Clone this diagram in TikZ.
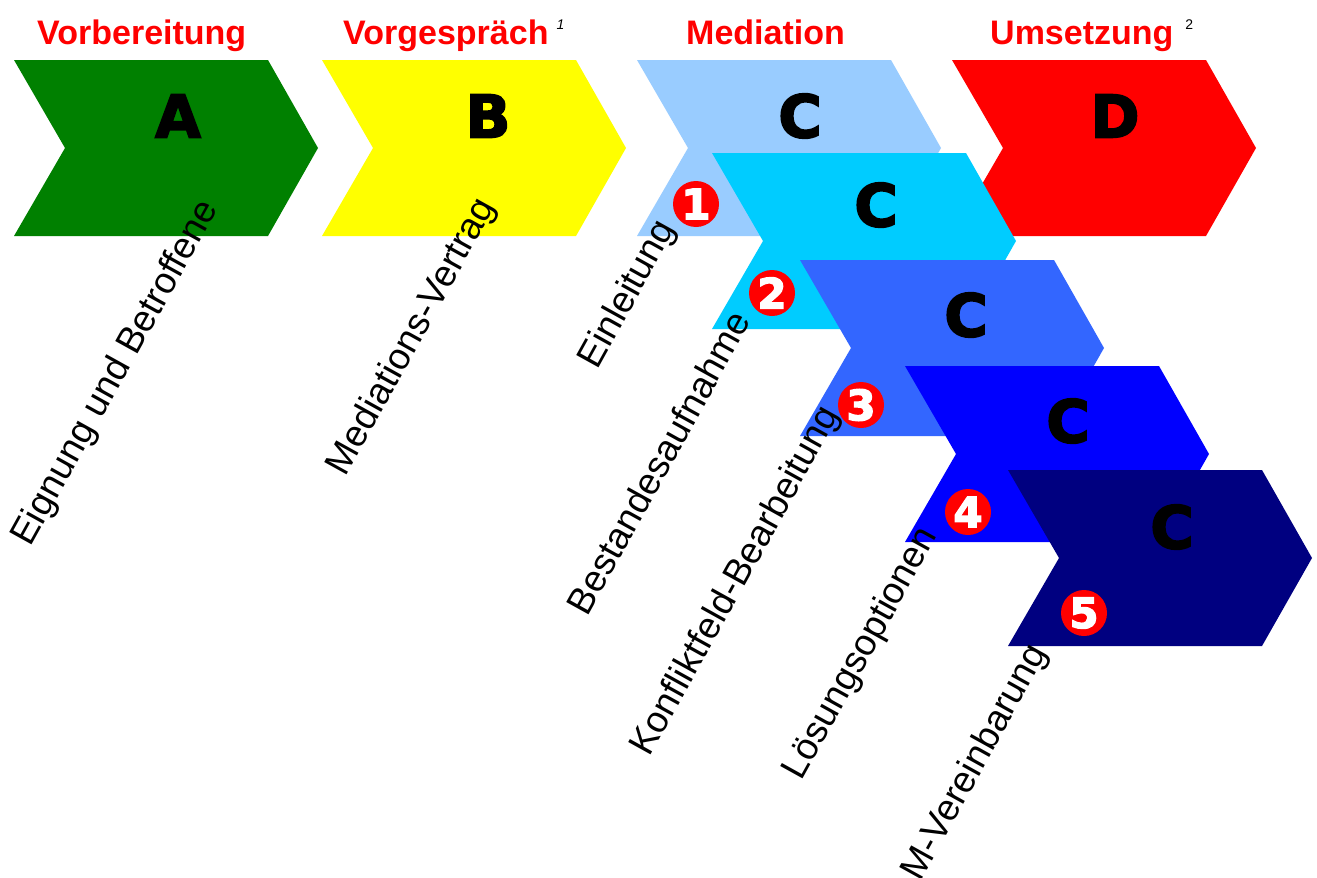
\documentclass[tikz,border=0pt]{standalone}
\usepackage{fontspec}
\setmainfont{Liberation Sans}
\newfontfamily\heavyfont{DejaVu Sans}[BoldFeatures={FakeBold=3}]
\definecolor{PrepClr}{RGB}{0,128,0}
\definecolor{TalkClr}{RGB}{255,255,0}
\definecolor{MedOneClr}{RGB}{153,204,255}
\definecolor{MedTwoClr}{RGB}{0,204,255}
\definecolor{MedThreeClr}{RGB}{51,102,255}
\definecolor{MedFourClr}{RGB}{0,0,255}
\definecolor{MedFiveClr}{RGB}{0,0,128}
\definecolor{DoClr}{RGB}{255,0,0}
\definecolor{PhaseClr}{RGB}{255,0,0}

\begin{document}
\begin{tikzpicture}[x=1pt,y=-1pt,
  chevron/.pic={\fill (0,0) -- (254,0) -- (304,88) -- (254,176) -- (0,176) -- (51,88) -- cycle;},
  phase/.style={anchor=base west,inner sep=0,text=PhaseClr,font=\bfseries\fontsize{34}{34}\selectfont},
  letter/.style={inner sep=0,font=\heavyfont\bfseries\fontsize{59}{59}\selectfont},
  stepnum/.style={circle,fill=PhaseClr,text=white,inner sep=0,minimum size=46pt,font=\heavyfont\bfseries\fontsize{42}{42}\selectfont},
  task/.style={anchor=base east,rotate=61,inner sep=0,font=\fontsize{37}{37}\selectfont}]
\useasboundingbox[fill=white] (0,0) rectangle (1317,878);

\pic[PrepClr] at (14,60) {chevron};
\pic[TalkClr] at (322,60) {chevron};
\pic[MedOneClr] at (637,60) {chevron};
\pic[DoClr] at (952,60) {chevron};
\pic[MedTwoClr] at (712,153) {chevron};
\pic[MedThreeClr] at (800,260) {chevron};
\pic[MedFourClr] at (905,366) {chevron};
\pic[MedFiveClr] at (1008,470) {chevron};

\node[phase] (prep) at (37,44) {Vorbereitung};
\node[phase] (talk) at (343,44) {Vorgespräch\hspace{8pt}\textcolor{black}{\raisebox{15pt}{\mdseries\itshape\fontsize{14}{14}\selectfont 1}}};
\node[phase] (med) at (686,44) {Mediation};
\node[phase] (do) at (990,44) {Umsetzung\hspace{12pt}\textcolor{black}{\raisebox{15pt}{\mdseries\fontsize{14}{14}\selectfont 2}}};

\node[letter] (la) at (178,116) {A};
\node[letter] (lb) at (488,116) {B};
\node[letter] (lc1) at (800,116) {C};
\node[letter] (ld) at (1115,116) {D};
\node[letter] (lc2) at (876,205) {C};
\node[letter] (lc3) at (966,315) {C};
\node[letter] (lc4) at (1068,421) {C};
\node[letter] (lc5) at (1172,527) {C};

\node[stepnum] (s1) at (696,204) {1};
\node[stepnum] (s2) at (772,293) {2};
\node[stepnum] (s3) at (861,405) {3};
\node[stepnum] (s4) at (968,512) {4};
\node[stepnum] (s5) at (1084,613) {5};

\node[task] (t1) at (219,208) {Eignung und Betroffene};
\node[task] (t2) at (496,206) {Mediations-Vertrag};
\node[task] (t3) at (676,228) {Einleitung};
\node[task] (t4) at (752,320) {Bestandesaufnahme};
\node[task] (t5) at (840,414) {Konfliktfeld-Bearbeitung};
\node[task] (t6) at (938,535) {Lösungsoptionen};
\node[task] (t7) at (1048,652) {M-Vereinbarung};

\end{tikzpicture}
\end{document}
